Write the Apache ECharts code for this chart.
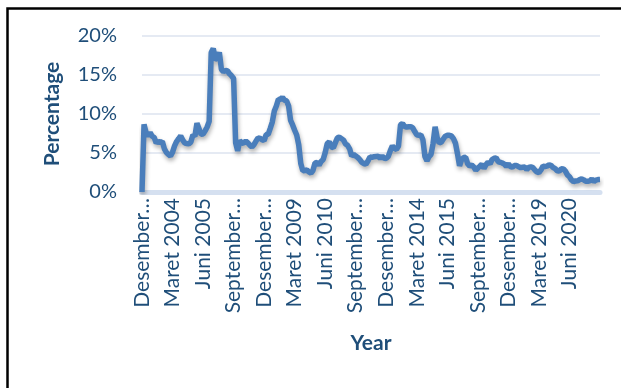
<!DOCTYPE html>
<html><head><meta charset="utf-8">
<script src="https://cdn.jsdelivr.net/npm/echarts@6/dist/echarts.min.js"></script>
<style>html,body{margin:0;padding:0;background:#fff;}#c{width:621px;height:388px;}</style>
</head><body><div id="c"></div>
<script>
const monthNames = ['Januari','Februari','Maret','April','Mei','Juni','Juli','Agustus','September','Oktober','November','Desember'];
const startYear = 2002, startMonth = 11; // Desember 2002
const v2002 = [0];
const v2003 = [8.68,7.60,7.17,7.62,7.15,6.98,6.27,6.51,6.33,6.48,5.53,5.06];
const v2004 = [4.82,4.60,5.11,5.92,6.47,6.83,7.20,6.67,6.27,6.22,6.18,6.40];
const v2005 = [7.32,7.15,8.81,8.12,7.40,7.42,7.84,8.33,9.06,17.89,18.38,17.11];
const v2006 = [17.03,17.92,15.74,15.40,15.60,15.53,15.15,14.90,14.55,6.29,5.27,6.60];
const v2007 = [6.26,6.30,6.52,6.29,6.01,5.77,6.06,6.51,6.95,6.88,6.71,6.59];
const v2008 = [7.36,7.40,8.17,8.96,10.38,11.03,11.90,11.85,12.14,11.77,11.68,11.06];
const v2009 = [9.17,8.60,7.92,7.31,6.04,3.65,2.71,2.75,2.83,2.57,2.41,2.78];
const v2010 = [3.72,3.81,3.43,3.91,4.16,5.05,6.22,6.44,5.80,5.67,6.33,6.96];
const v2011 = [7.02,6.84,6.65,6.16,5.98,5.54,4.61,4.79,4.61,4.42,4.15,3.79];
const v2012 = [3.65,3.56,3.97,4.50,4.45,4.53,4.56,4.58,4.31,4.61,4.32,4.30];
const v2013 = [4.57,5.31,5.90,5.57,5.47,5.90,8.61,8.79,8.40,8.32,8.37,8.38];
const v2014 = [8.22,7.75,7.32,7.25,7.32,6.70,4.53,3.99,4.53,4.83,6.23,8.36];
const v2015 = [6.96,6.29,6.38,6.79,7.15,7.26,7.26,7.18,6.83,6.25,4.89,3.35];
const v2016 = [4.14,4.42,4.45,3.60,3.33,3.45,3.21,2.79,3.07,3.31,3.58,3.02];
const v2017 = [3.49,3.83,3.61,4.17,4.33,4.37,3.88,3.82,3.72,3.58,3.30,3.61];
const v2018 = [3.25,3.18,3.40,3.41,3.23,3.12,3.18,3.20,2.88,3.16,3.23,3.13];
const v2019 = [2.82,2.57,2.48,2.83,3.32,3.28,3.32,3.49,3.39,3.13,3.00,2.72];
const v2020 = [2.68,2.98,2.96,2.67,2.19,1.96,1.54,1.32,1.42,1.44,1.59,1.68];
const v2021 = [1.55,1.38,1.37,1.42,1.68,1.33,1.52,1.59,1.60];

const values = [].concat(v2002,v2003,v2004,v2005,v2006,v2007,v2008,v2009,v2010,v2011,v2012,v2013,v2014,v2015,v2016,v2017,v2018,v2019,v2020,v2021);
const categories = values.map((_, i) => {
  const m = (startMonth + i) % 12;
  const y = startYear + Math.floor((startMonth + i) / 12);
  return monthNames[m] + ' ' + y;
});
const labelStep = 15;
const lastLabelIndex = 210; // Juni 2020

const txt = '#1F4E79';
const chart = echarts.init(document.getElementById('c'), null, {renderer: 'canvas'});
chart.setOption({
  animation: false,
  backgroundColor: '#fff',
  textStyle: {fontFamily: 'Lato'},
  graphic: [{
    type: 'rect', left: 5, top: 6,
    shape: {x: 0, y: 0, width: 800, height: 600},
    style: {fill: 'none', stroke: '#000', lineWidth: 2.5},
    silent: true
  }],
  grid: {left: 142, right: 21, top: 36, bottom: 196, containLabel: false},
  xAxis: {
    type: 'category', data: categories, boundaryGap: false,
    name: 'Year', nameLocation: 'middle', nameGap: 141,
    nameTextStyle: {color: txt, fontSize: 21, fontWeight: 'bold', fontFamily: 'Lato'},
    axisLine: {lineStyle: {color: '#d5e0f0', width: 5}},
    axisTick: {show: false},
    axisLabel: {
      interval: (i) => i % labelStep === 0 && i <= lastLabelIndex,
      rotate: 90, margin: 6, color: txt, fontSize: 21, fontFamily: 'Lato',
      formatter: v => (v.startsWith('Desember') || v.startsWith('September')) ? v.split(' ')[0] + '…' : v
    }
  },
  yAxis: {
    type: 'value', min: 0, max: 20, interval: 5,
    name: 'Percentage', nameLocation: 'middle', nameGap: 79,
    nameTextStyle: {color: txt, fontSize: 21, fontWeight: 'bold', fontFamily: 'Lato'},
    axisLine: {show: false}, axisTick: {show: false},
    axisLabel: {formatter: '{value}%', color: txt, fontSize: 20, margin: 25, fontFamily: 'Lato'},
    splitLine: {lineStyle: {color: '#dde3ef', width: 1.5}}
  },
  series: [{
    type: 'line', data: values, symbol: 'none', smooth: false,
    lineStyle: {color: '#4a7ebb', width: 5.5, shadowColor: 'rgba(0,0,0,0.3)', shadowBlur: 4, shadowOffsetY: 3, shadowOffsetX: 1},
    itemStyle: {color: '#4a7ebb'}
  }]
});
</script></body></html>
